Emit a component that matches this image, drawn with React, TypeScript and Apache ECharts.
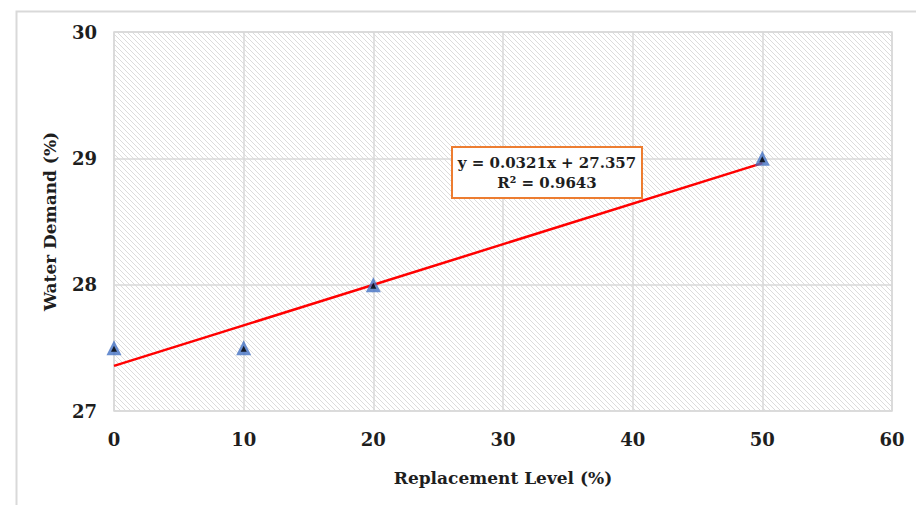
import React, { useEffect, useRef } from "react";
import * as echarts from "echarts";

const replacementLevels = [0, 10, 20, 50];
const waterDemand = [27.5, 27.5, 28, 29];
const trendX = [0, 50];
const trendSlope = 0.0321;
const trendIntercept = 27.357;
const equationLines = ["y = 0.0321x + 27.357", "R² = 0.9643"];
const xTicks = [0, 10, 20, 30, 40, 50, 60];
const yTicks = [27, 28, 29, 30];

function makeHatch(): HTMLCanvasElement {
  const c = document.createElement("canvas");
  const s = 5;
  c.width = s;
  c.height = s;
  const ctx = c.getContext("2d")!;
  ctx.fillStyle = "#ffffff";
  ctx.fillRect(0, 0, s, s);
  ctx.strokeStyle = "#dcdcdc";
  ctx.lineWidth = 1;
  ctx.beginPath();
  ctx.moveTo(-1, -1);
  ctx.lineTo(s + 1, s + 1);
  ctx.moveTo(-1, s - 1);
  ctx.lineTo(1, s + 1);
  ctx.moveTo(s - 1, -1);
  ctx.lineTo(s + 1, 1);
  ctx.stroke();
  return c;
}

export default function App() {
  const ref = useRef<HTMLDivElement>(null);
  useEffect(() => {
    if (!ref.current) return;
    const chart = echarts.init(ref.current, undefined, { renderer: "svg" });
    const font = "DejaVu Serif";
    const textColor = "#1e1e1e";
    const scatterData = replacementLevels.map((x, i) => [x, waterDemand[i]]);
    const trendData = trendX.map((x) => [x, trendIntercept + trendSlope * x]);
    chart.setOption({
      animation: false,
      backgroundColor: "#ffffff",
      grid: {
        left: 114,
        right: 24,
        top: 32,
        bottom: 94,
        show: true,
        backgroundColor: { image: makeHatch(), repeat: "repeat" },
        borderColor: "#d9d9d9",
        borderWidth: 1.5,
      },
      xAxis: {
        type: "value",
        min: xTicks[0],
        max: xTicks[xTicks.length - 1],
        interval: 10,
        name: "Replacement Level (%)",
        nameLocation: "middle",
        nameGap: 58,
        nameTextStyle: { fontFamily: font, fontWeight: "bold", fontSize: 17, color: textColor },
        axisLine: { show: false },
        axisTick: { show: false },
        axisLabel: { fontFamily: font, fontWeight: "bold", fontSize: 18, color: textColor, margin: 19 },
        splitLine: { show: true, lineStyle: { color: "#d9d9d9", width: 1.5 } },
      },
      yAxis: {
        type: "value",
        min: yTicks[0],
        max: yTicks[yTicks.length - 1],
        interval: 1,
        name: "Water Demand (%)",
        nameLocation: "middle",
        nameGap: 56,
        nameTextStyle: { fontFamily: font, fontWeight: "bold", fontSize: 17, color: textColor },
        axisLine: { show: false },
        axisTick: { show: false },
        axisLabel: { fontFamily: font, fontWeight: "bold", fontSize: 18, color: textColor, margin: 17 },
        splitLine: { show: true, lineStyle: { color: "#d9d9d9", width: 1.5 } },
      },
      series: [
        {
          type: "line",
          data: trendData,
          symbol: "none",
          lineStyle: { color: "#ff0000", width: 2.5 },
          z: 2,
        },
        {
          type: "scatter",
          data: scatterData,
          symbol: "triangle",
          symbolSize: 15,
          itemStyle: { color: "#4472c4" },
          z: 3,
        },
        {
          type: "scatter",
          data: scatterData,
          symbol: "triangle",
          symbolSize: 6,
          symbolOffset: [0, 1],
          itemStyle: { color: "#000000" },
          z: 4,
        },
      ],
      graphic: [
        {
          type: "rect",
          left: 14,
          top: 9,
          shape: { width: 1000, height: 1000 },
          style: { fill: "none", stroke: "#d9d9d9", lineWidth: 2 },
          silent: true,
        },
        {
          type: "group",
          left: 451,
          top: 146,
          z: 10,
          children: [
            {
              type: "rect",
              x: 0,
              y: 0,
              shape: { width: 190, height: 51 },
              style: { fill: "#ffffff", stroke: "#ed7d31", lineWidth: 2 },
              z: 10,
            },
            {
              type: "text",
              x: 95,
              y: 6,
              z: 11,
              style: {
                text: equationLines.join("\n"),
                align: "center",
                verticalAlign: "top",
                fontFamily: font,
                fontWeight: "bold",
                fontSize: 15,
                lineHeight: 20,
                fill: textColor,
              },
            },
          ],
        },
      ],
    });
    return () => chart.dispose();
  }, []);
  return (
    <div
      ref={ref}
      style={{ position: "fixed", left: 0, top: 0, width: 916, height: 505 }}
    />
  );
}
